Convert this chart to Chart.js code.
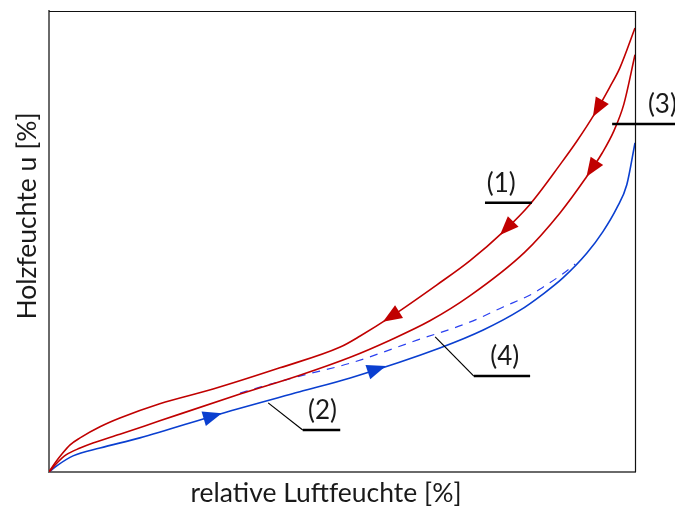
<!DOCTYPE html>
<html>
<head>
<meta charset="utf-8">
<script src="https://cdn.jsdelivr.net/npm/chart.js@4.4.1/dist/chart.umd.min.js"></script>
<style>
  html, body { margin: 0; padding: 0; background: #ffffff; }
  canvas { display: block; }
</style>
</head>
<body>
<canvas id="chart" width="675" height="508"></canvas>
<script>
// Sorption isotherms: relative humidity [%] vs. wood moisture (relative units)

// (1) first desorption curve
const desorb1Rh = [0, 1.0, 2.2, 3.6, 5.3, 8.7, 12.1, 18.9, 28.0, 39.4, 49.7, 53.1, 58.5, 66.2, 71.8, 77.5, 82.1, 87.4, 90.1, 93.2, 95.7, 97.4, 100];
const desorb1U  = [0, 1.9, 3.9, 5.9, 7.4, 9.8, 11.7, 14.8, 18.0, 22.6, 27.1, 29.5, 33.8, 40.6, 45.8, 52.1, 58.1, 67.0, 71.8, 77.9, 83.5, 87.6, 96.3];

// (3) second desorption curve
const desorb3Rh = [0, 1.4, 2.9, 5.3, 7.5, 12.1, 18.9, 32.6, 42.8, 51.4, 58.2, 65.0, 71.8, 81.2, 87.2, 91.5, 94.4, 96.4, 98.1, 100];
const desorb3U  = [0, 2.0, 3.7, 5.2, 6.3, 8.2, 11.1, 16.9, 21.0, 24.9, 28.6, 32.8, 38.2, 47.7, 56.2, 63.6, 69.2, 74.0, 79.8, 90.5];

// (2) adsorption curve
const adsorb2Rh = [0, 1.5, 4.1, 8.7, 15.5, 29.2, 42.8, 51.4, 66.7, 74.1, 80.4, 84.3, 87.7, 91.8, 94.5, 96.9, 98.6, 100];
const adsorb2U  = [0, 1.5, 3.5, 5.2, 7.4, 12.6, 17.4, 20.4, 26.9, 30.8, 35.1, 38.6, 42.1, 47.5, 52.1, 57.3, 62.3, 71.4];

// (4) intermediate adsorption branch (dashed)
const adsorb4Rh = [32.6, 36.0, 42.8, 51.4, 62.8, 71.8, 77.5, 82.1, 84.3, 87.7, 89.8];
const adsorb4U  = [17.1, 18.4, 20.8, 23.6, 28.6, 32.5, 35.8, 38.4, 40.1, 43.0, 45.1];

// Direction arrows: dataset index, position on the humidity axis, direction (+1 rising, -1 falling)
const arrowDataset = [0, 0, 0, 1, 2, 2];
const arrowRh      = [93.7, 78.2, 58.5, 92.7, 27.8, 55.8];
const arrowDir     = [-1, -1, -1, -1, 1, 1];

// Curve labels with underline and optional leader line
const labelText   = ['(1)', '(2)', '(3)', '(4)'];
const labelLineX0 = [74.4, 43.3, 96.1, 72.5];
const labelLineX1 = [82.4, 49.7, 106.9, 82.1];
const labelLineU  = [58.4, 9.1, 75.5, 20.8];
const labelTextRh = [74.7, 44.2, 102.2, 75.3];
const leaderRh    = [null, 37.4, null, 65.9];
const leaderU     = [null, 15.0, null, 29.3];

const RED = '#c00000';
const BLUE = '#0a3fd0';
const DASH_BLUE = '#2a40f0';
const FONT = 'Lato, "Open Sans", sans-serif';

function pts(xs, ys) { return xs.map((x, i) => ({ x: x, y: ys[i] })); }

const arrowPlugin = {
  id: 'arrows',
  afterDatasetsDraw(chart) {
    const ctx = chart.ctx;
    const xs = chart.scales.x;
    arrowRh.forEach((rh, k) => {
      const meta = chart.getDatasetMeta(arrowDataset[k]);
      const color = chart.data.datasets[arrowDataset[k]].borderColor;
      const px = xs.getPixelForValue(rh);
      const p = meta.data;
      for (let i = 0; i < p.length - 1; i++) {
        const a = p[i], b = p[i + 1];
        if (px >= a.x && px <= b.x) {
          const t = (px - a.x) / ((b.x - a.x) || 1);
          const py = a.y + t * (b.y - a.y);
          let dx = (b.x - a.x) * arrowDir[k], dy = (b.y - a.y) * arrowDir[k];
          const len = Math.hypot(dx, dy) || 1;
          dx /= len; dy /= len;
          const L = 19, W = 7.5;
          const tipX = px + dx * L * 0.55, tipY = py + dy * L * 0.55;
          const bx = px - dx * L * 0.45, by = py - dy * L * 0.45;
          ctx.save();
          ctx.fillStyle = color;
          ctx.beginPath();
          ctx.moveTo(tipX, tipY);
          ctx.lineTo(bx - dy * W, by + dx * W);
          ctx.lineTo(bx + dy * W, by - dx * W);
          ctx.closePath();
          ctx.fill();
          ctx.restore();
          break;
        }
      }
    });
  }
};

const framePlugin = {
  id: 'frameAndLabels',
  afterDraw(chart) {
    const ctx = chart.ctx;
    const a = chart.chartArea;
    const xs = chart.scales.x, ys = chart.scales.y;
    ctx.save();
    // top and right frame edges
    ctx.strokeStyle = '#111111';
    ctx.lineWidth = 1.2;
    ctx.beginPath();
    ctx.moveTo(a.left, a.top + 0.5);
    ctx.lineTo(a.right + 0.5, a.top + 0.5);
    ctx.lineTo(a.right + 0.5, a.bottom);
    ctx.stroke();

    // curve labels
    ctx.font = '26px ' + FONT;
    ctx.fillStyle = '#1a1a1a';
    ctx.textAlign = 'left';
    ctx.textBaseline = 'alphabetic';
    labelText.forEach((txt, i) => {
      const x0 = xs.getPixelForValue(labelLineX0[i]);
      const x1 = xs.getPixelForValue(labelLineX1[i]);
      const y = ys.getPixelForValue(labelLineU[i]);
      ctx.strokeStyle = '#000000';
      ctx.lineWidth = 2.5;
      ctx.beginPath();
      ctx.moveTo(x0, y);
      ctx.lineTo(x1, y);
      ctx.stroke();
      if (leaderRh[i] !== null) {
        ctx.lineWidth = 1.2;
        ctx.beginPath();
        ctx.moveTo(x0, y);
        ctx.lineTo(xs.getPixelForValue(leaderRh[i]), ys.getPixelForValue(leaderU[i]));
        ctx.stroke();
      }
      ctx.fillText(txt, xs.getPixelForValue(labelTextRh[i]), y - 11);
    });

    // axis titles
    ctx.font = '26.5px ' + FONT;
    ctx.fillStyle = '#1a1a1a';
    ctx.textAlign = 'center';
    ctx.fillText('relative Luftfeuchte [%]', 326, 502);
    ctx.translate(36, 216);
    ctx.rotate(-Math.PI / 2);
    ctx.fillText('Holzfeuchte u [%]', 0, 0);
    ctx.restore();
  }
};

new Chart(document.getElementById('chart'), {
  type: 'line',
  data: {
    datasets: [
      { label: '(1)', data: pts(desorb1Rh, desorb1U), borderColor: RED, borderWidth: 1.6 },
      { label: '(3)', data: pts(desorb3Rh, desorb3U), borderColor: RED, borderWidth: 1.6 },
      { label: '(2)', data: pts(adsorb2Rh, adsorb2U), borderColor: BLUE, borderWidth: 1.6 },
      { label: '(4)', data: pts(adsorb4Rh, adsorb4U), borderColor: DASH_BLUE, borderWidth: 1.2, borderDash: [8, 7] }
    ]
  },
  options: {
    responsive: false,
    animation: false,
    devicePixelRatio: 1,
    layout: { padding: { left: 49, top: 11, right: 40, bottom: 36 } },
    elements: {
      point: { radius: 0, hoverRadius: 0 },
      line: { cubicInterpolationMode: 'monotone', fill: false }
    },
    plugins: { legend: { display: false }, tooltip: { enabled: false } },
    scales: {
      x: {
        type: 'linear', min: 0, max: 100,
        ticks: { display: false },
        grid: { display: false, drawTicks: false, tickLength: 0 },
        border: { display: true, color: '#6a6a6a', width: 2 },
        title: { display: false }
      },
      y: {
        type: 'linear', min: 0, max: 100,
        ticks: { display: false },
        grid: { display: false, drawTicks: false, tickLength: 0 },
        border: { display: true, color: '#6a6a6a', width: 2 },
        title: { display: false }
      }
    }
  },
  plugins: [arrowPlugin, framePlugin]
});
</script>
</body>
</html>
